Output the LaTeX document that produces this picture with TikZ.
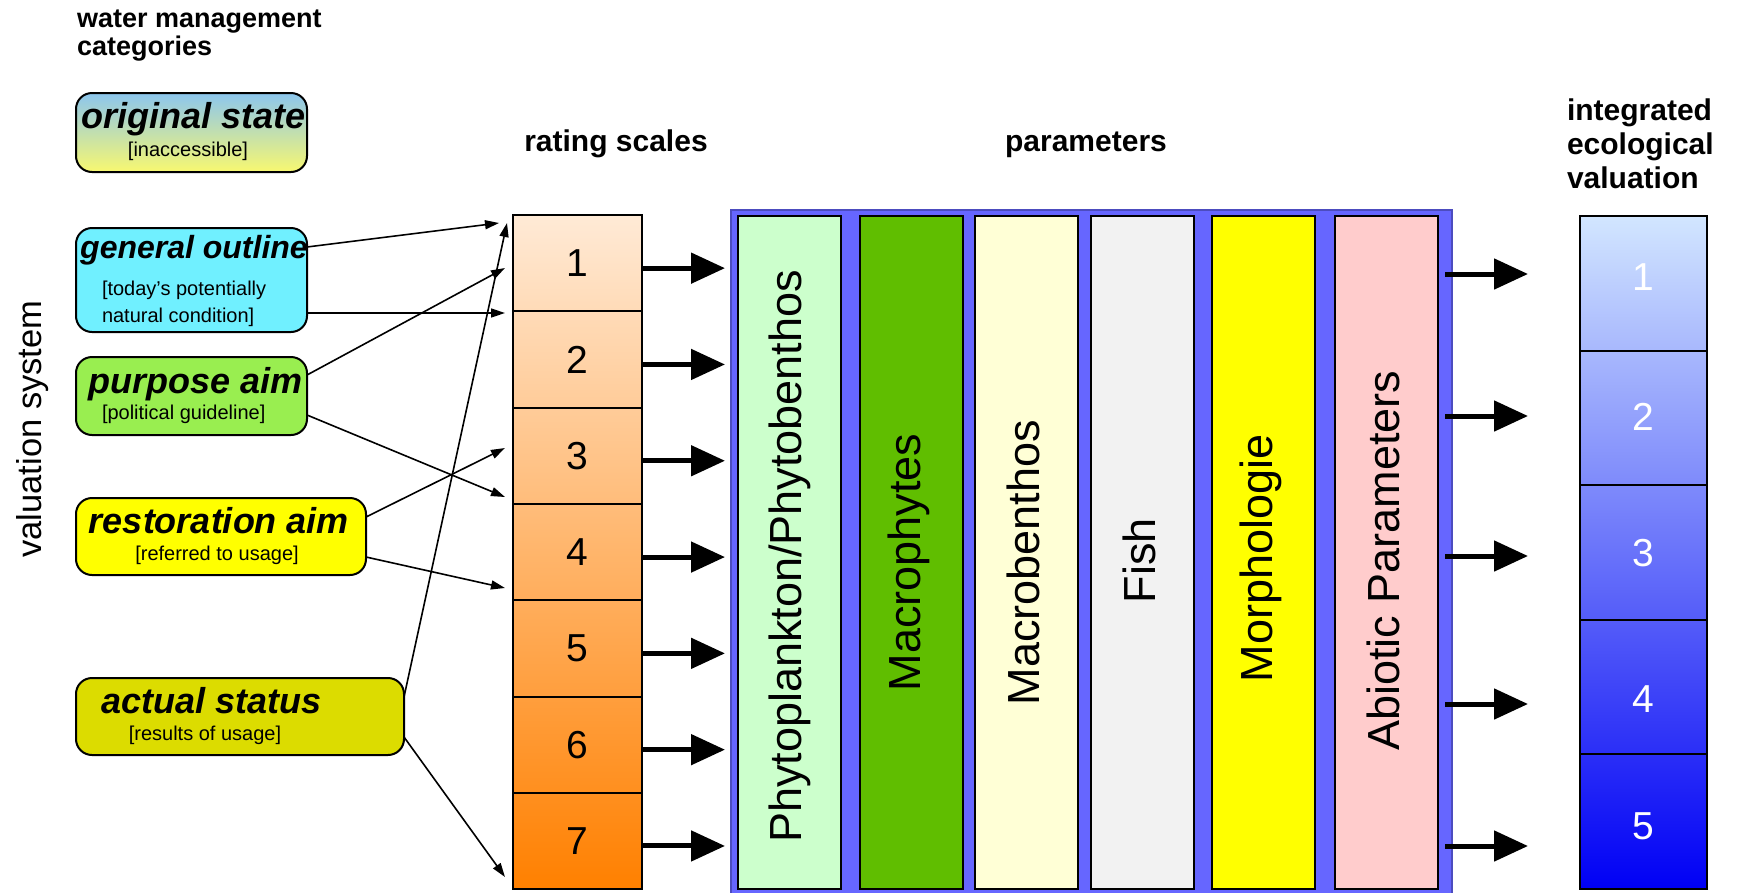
\documentclass[tikz,border=0pt]{standalone}
\usepackage{fontspec}
\setmainfont{Liberation Sans}
\usetikzlibrary{arrows.meta,calc}
\definecolor{rtop}{HTML}{FFEAD6}
\definecolor{rbot}{HTML}{FF8000}
\definecolor{itop}{HTML}{D2E6FF}
\definecolor{ibot}{HTML}{0000F5}
\definecolor{ostop}{HTML}{8CC6EE}
\definecolor{osbot}{HTML}{F8F870}
\definecolor{gocol}{HTML}{70F0FF}
\definecolor{pacol}{HTML}{99EE50}
\definecolor{racol}{HTML}{FFFF00}
\definecolor{ascol}{HTML}{DCDC00}
\definecolor{pblue}{HTML}{6666FF}
\definecolor{cphyto}{HTML}{CCFFCC}
\definecolor{cmacph}{HTML}{60BE00}
\definecolor{cmacb}{HTML}{FFFFD6}
\definecolor{cfish}{HTML}{F2F2F2}
\definecolor{cmorph}{HTML}{FFFF00}
\definecolor{cabio}{HTML}{FFCCCC}
\begin{document}
\begin{tikzpicture}[x=1pt,y=-1pt,
  every node/.style={inner sep=0pt, outer sep=0pt},
  cat/.style={draw=black, line width=2pt, rounded corners=16pt, anchor=north west},
  ttl/.style={font=\fontsize{36}{40}\selectfont\bfseries\itshape, anchor=base},
  sub/.style={font=\fontsize{20}{24}\selectfont, anchor=base},
  hdr/.style={font=\fontsize{30}{34}\selectfont\bfseries, anchor=base},
  thinarr/.style={line width=1.6pt, -{Triangle[length=14pt,width=9pt]}},
  thickarr/.style={line width=5pt, -{Triangle[length=34pt,width=30pt]}},
  cell/.style={draw=black, line width=2pt, minimum width=129pt, minimum height=96.3pt, anchor=north west, font=\fontsize{39}{40}\selectfont},
  icell/.style={draw=black, line width=2pt, minimum width=127pt, minimum height=134.6pt, anchor=north west, font=\fontsize{39}{40}\selectfont, text=white},
  bar/.style={draw=black, line width=2pt, minimum width=103pt, minimum height=673pt, anchor=north west},
  bartext/.style={rotate=90, font=\fontsize{45}{48}\selectfont, anchor=center}
]
\useasboundingbox (0,0) rectangle (1738,892);
\clip (0,0) rectangle (1738,892);

% headers
\node[hdr, anchor=base west, font=\fontsize{27}{30}\selectfont\bfseries] (wm1) at (77,27) {water management};
\node[hdr, anchor=base west, font=\fontsize{27}{30}\selectfont\bfseries] (wm2) at (77,55) {categories};
\node[hdr] (rs) at (616,151) {rating scales};
\node[hdr] (par) at (1086,151) {parameters};
\node[hdr, anchor=base west] (ie1) at (1567,120) {integrated};
\node[hdr, anchor=base west] (ie2) at (1567,154) {ecological};
\node[hdr, anchor=base west] (ie3) at (1567,188) {valuation};
\node[rotate=90, font=\fontsize{34.5}{36}\selectfont, anchor=center] (vs) at (33,429) {valuation system};

% category boxes
\node[cat, top color=ostop, bottom color=osbot, minimum width=231pt, minimum height=79pt] (os) at (76,93) {};
\node[ttl] (ost) at (194,128) {original state};
\node[sub] (oss) at (188,156) {[inaccessible]};

\node[cat, fill=gocol, minimum width=231pt, minimum height=104pt] (go) at (76,228) {};
\node[ttl, font=\fontsize{32}{36}\selectfont\bfseries\itshape] (got) at (194,258) {general outline};
\node[sub, anchor=base west] (gos1) at (102,295) {[today's potentially};
\node[sub, anchor=base west] (gos2) at (102,322) {natural condition]};

\node[cat, fill=pacol, minimum width=231pt, minimum height=78pt] (pa) at (76,357) {};
\node[ttl] (pat) at (196,393) {purpose aim};
\node[sub, anchor=base west] (pas) at (102,419) {[political guideline]};

\node[cat, fill=racol, minimum width=290pt, minimum height=77pt] (ra) at (76,498) {};
\node[ttl] (rat) at (219,533) {restoration aim};
\node[sub] (ras) at (217,560) {[referred to usage]};

\node[cat, fill=ascol, minimum width=328pt, minimum height=77pt] (as) at (76,678) {};
\node[ttl] (ast) at (212,713) {actual status};
\node[sub] (ass) at (205,740) {[results of usage]};

% rating scale
\node[top color=rtop, bottom color=rbot, minimum width=129pt, minimum height=674pt, anchor=north west] (rbox) at (513,215) {};
\foreach \i in {1,...,7} {
  \node[cell] (r\i) at (513,{215+96.3*(\i-1)}) {\i};
}

% thin connectors
\coordinate (e1) at ($(rbox.north west)+(-14,8)$);
\coordinate (e2) at ($(rbox.north west)+(-8,98)$);
\coordinate (e3) at ($(rbox.north west)+(-8,53)$);
\coordinate (e4) at ($(rbox.north west)+(-8,282)$);
\coordinate (e5) at ($(rbox.north west)+(-8,233)$);
\coordinate (e6) at ($(rbox.north west)+(-8,373)$);
\coordinate (e7) at ($(rbox.north west)+(-6,8)$);
\coordinate (e8) at ($(rbox.north west)+(-8,662)$);
\draw[thinarr] ($(go.north east)+(0,19)$) -- (e1);
\draw[thinarr] ($(go.south east)+(0,-19)$) -- (e2);
\draw[thinarr] ($(pa.north east)+(0,18)$) -- (e3);
\draw[thinarr] ($(pa.south east)+(0,-20)$) -- (e4);
\draw[thinarr] ($(ra.north east)+(0,19)$) -- (e5);
\draw[thinarr] ($(ra.south east)+(0,-18)$) -- (e6);
\draw[thinarr] ($(as.north east)+(0,19)$) -- (e7);
\draw[thinarr] ($(as.south east)+(0,-18)$) -- (e8);

% parameter panel
\node[fill=pblue, draw=pblue!75!black, line width=1.5pt, minimum width=721pt, minimum height=700pt, anchor=north west] (panel) at (731,210) {};
\node[bar, fill=cphyto] (b1) at (738,216) {};
\node[bar, fill=cmacph] (b2) at (860,216) {};
\node[bar, fill=cmacb] (b3) at (975,216) {};
\node[bar, fill=cfish] (b4) at (1091,216) {};
\node[bar, fill=cmorph] (b5) at (1212,216) {};
\node[bar, fill=cabio] (b6) at (1335,216) {};
\node[bartext] (t1) at ($(b1.center)+(0,4)$) {Phytoplankton/Phytobenthos};
\node[bartext] (t2) at ($(b2.center)+(-3,10)$) {Macrophytes};
\node[bartext] (t3) at ($(b3.center)+(-3,10)$) {Macrobenthos};
\node[bartext] (t4) at ($(b4.center)+(-3,8)$) {Fish};
\node[bartext] (t5) at ($(b5.center)+(-3,6)$) {Morphologie};
\node[bartext] (t6) at ($(b6.center)+(-3,8)$) {Abiotic Parameters};

% thick arrows rating -> parameters
\foreach \i in {1,...,7} {
  \draw[thickarr] ($(r\i.east)+(1,5)$) -- ($(r\i.east -| panel.west)+(-6,5)$);
}

% integrated valuation
\node[top color=itop, bottom color=ibot, minimum width=127pt, minimum height=673pt, anchor=north west] (ibox) at (1580,216) {};
\foreach \i/\dy in {1/-7,2/-13,3/-14,4/-25,5/-18} {
  \node[icell] (i\i) at (1580,{216+134.6*(\i-1)}) {\raisebox{\dy pt}[0pt][0pt]{\i}};
}
\foreach \y in {274,416,556,704,846} {
  \draw[thickarr] ($(panel.north east)+(-7,{\y-210})$) -- ($(ibox.north west)+(-52,{\y-216})$);
}
\end{tikzpicture}
\end{document}
